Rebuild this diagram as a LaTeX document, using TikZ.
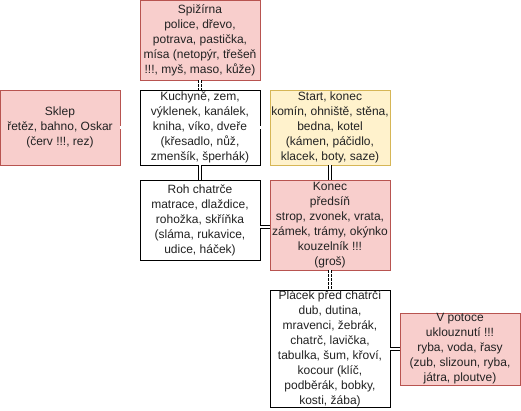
\documentclass[tikz,border=0pt]{standalone}
\usepackage{fontspec}
\setmainfont{Liberation Sans}
\usetikzlibrary{calc}

\definecolor{redfill}{HTML}{F8CECC}
\definecolor{redline}{HTML}{B85450}
\definecolor{yelfill}{HTML}{FFF2CC}
\definecolor{yelline}{HTML}{D6B656}
\definecolor{txt}{HTML}{222222}

\begin{document}
\begin{tikzpicture}[x=1pt,y=-1pt,
    room/.style={draw=black, fill=white, line width=0.9pt, align=center, inner sep=0pt,
        minimum width=120pt, text=txt, font=\fontsize{12}{15}\selectfont},
    redroom/.style={room, draw=redline, fill=redfill},
    yelroom/.style={room, draw=yelline, fill=yelfill},
    door/.style={double=white, double distance=2.2pt, line width=0.8pt},
    hole/.style={door, dashed, dash pattern=on 2.5pt off 1.5pt}]
            % okraje obrazku
            \useasboundingbox (0,0) rectangle (521,411);

            % mistnosti
            \node[redroom, minimum height=80pt] (spiz) at (200,40)
            {Spižírna\\police, dřevo,\\potrava, pastička,\\mísa (netopýr, třešeň\\!!!, myš, maso, kůže)};
            \node[redroom, minimum height=75pt] (sklep) at (60,127.5)
            {Sklep\\řetěz, bahno, Oskar\\(červ !!!, rez)};
            \node[room, minimum height=75pt] (kuch) at (200,127.5)
            {Kuchyně, zem,\\výklenek, kanálek,\\kniha, víko, dveře\\(křesadlo, nůž,\\zmenšík, šperhák)};
            \node[yelroom, minimum height=75pt] (start) at (330,127.5)
            {Start, konec\\komín, ohniště, stěna,\\bedna, kotel\\(kámen, páčidlo,\\klacek, boty, saze)};
            \node[room, minimum height=80pt] (roh) at (200,220)
            {Roh chatrče\\matrace, dlaždice,\\rohožka, skříňka\\(sláma, rukavice,\\udice, háček)};
            \node[redroom, minimum height=90pt] (konec) at (330,225)
            {Konec\\předsíň\\strop, zvonek, vrata,\\zámek, trámy, okýnko\\kouzelník !!!\\(groš)};
            \node[room, minimum height=117pt] (placek) at (330,348.5)
            {Plácek před chatrčí\\dub, dutina,\\mravenci, žebrák,\\chatrč, lavička,\\tabulka, šum, křoví,\\kocour (klíč,\\podběrák, bobky,\\kosti, žába)};
            \node[redroom, minimum height=72pt] (potok) at (460,349)
            {V potoce\\uklouznutí !!!\\ryba, voda, řasy\\(zub, slizoun, ryba,\\játra, ploutve)};

            % pruchody
            \draw[hole] (spiz) -- (kuch);
            \draw[hole] (sklep) -- (kuch);
            \draw[door] (kuch) -- (start);
            \draw[door] (kuch) -- (roh);
            \draw[door] (start) -- (konec);
            \draw[door] ($(roh.east)+(0,7)$) -- (konec.west |- {$(roh.east)+(0,7)$});
            \draw[hole] (konec) -- (placek);
            \draw[door] (placek.east |- potok.west) -- (potok.west);
\end{tikzpicture}
\end{document}
